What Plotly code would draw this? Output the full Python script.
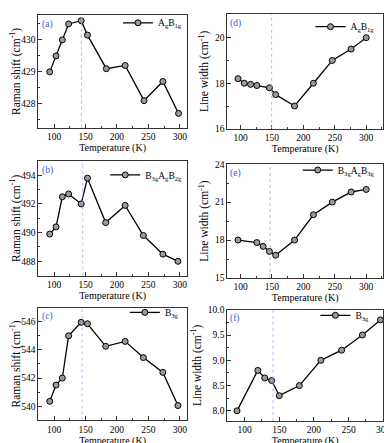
import plotly.graph_objects as go
from plotly.subplots import make_subplots

# temperatures (K)
t_a = [93, 103, 113, 123, 143, 153, 183, 213, 243, 273, 298]
t_b = [93, 103, 113, 123, 143, 153, 182, 213, 242, 273, 297]
t_c = [93, 103, 113, 123, 143, 153, 182, 213, 242, 273, 297]
t_d = [96, 106, 116, 126, 146, 156, 186, 216, 246, 276, 300]
t_e = [96, 126, 136, 146, 156, 186, 216, 246, 276, 300]
t_f = [89, 119, 129, 139, 150, 179, 210, 240, 270, 296]

# Raman shift (cm-1)
shift_a = [429.0, 429.5, 430.0, 430.5, 430.6, 430.15, 429.1, 429.2, 428.1, 428.7, 427.7]
shift_b = [489.9, 490.4, 492.5, 492.7, 492.0, 493.8, 490.7, 491.9, 489.8, 488.5, 488.0]
shift_c = [540.35, 541.5, 542.0, 545.0, 545.95, 545.85, 544.25, 544.6, 543.45, 542.4, 540.05]

# line width (cm-1)
width_d = [18.2, 18.0, 17.95, 17.9, 17.8, 17.5, 17.0, 18.0, 19.0, 19.5, 20.0]
width_e = [18.0, 17.8, 17.5, 17.1, 16.8, 18.0, 20.0, 21.0, 21.8, 22.0]
width_f = [8.0, 8.8, 8.65, 8.6, 8.3, 8.5, 9.0, 9.2, 9.5, 9.8]

labels = ["(a)", "(d)", "(b)", "(e)", "(c)", "(f)"]
modes = ["A<sub>g</sub>B<sub>1g</sub>", "A<sub>g</sub>B<sub>1g</sub>",
         "B<sub>3g</sub>A<sub>g</sub>B<sub>2g</sub>", "B<sub>3g</sub>A<sub>g</sub>B<sub>3g</sub>",
         "B<sub>3g</sub>", "B<sub>3g</sub>"]
vlines = [143.5, 149.5, 145.5, 147, 144.5, 141]

FONT = "Liberation Serif"
fig = make_subplots(rows=3, cols=2)

panels = [(t_a, shift_a), (t_d, width_d), (t_b, shift_b),
          (t_e, width_e), (t_c, shift_c), (t_f, width_f)]

# domains (pixels -> paper)
W, H = 392, 443
xdom_l = [31 / W, 182 / W]
xdom_r = [223.3 / W, 382 / W]
ydoms = [(1, 116.7), (0, 117.7), (150.7, 268.3), (154, 270.7), (301, 416.7), (303.3, 417.3)]

xranges = [[75, 311], [79, 327], [75, 311], [79, 327], [75, 311], [75, 300]]
yranges = [[427.25, 430.78], [16, 21.04], [487, 495], [15, 24], [539, 547], [7.8, 10.0]]
ydticks = [1, 2, 2, 3, 2, 0.5]

# legend text start / vertical centre, in pixels
leg_text_x = [153, 349, 140, 336, 160, 354]
leg_mid_y = [9, 13, 165, 160, 306, 309]

for i, (tx, vals) in enumerate(panels):
    r, c = i // 2 + 1, i % 2 + 1
    lg = "legend" if i == 0 else f"legend{i + 1}"
    fig.add_trace(go.Scatter(
        x=tx, y=vals, mode="lines+markers", name=modes[i],
        line=dict(color="black", width=1.3),
        marker=dict(symbol="circle", size=6, color="#9a9a9a",
                    line=dict(color="black", width=1)),
        legend=lg, showlegend=True,
    ), row=r, col=c)

    xd = xdom_l if c == 1 else xdom_r
    top, bot = ydoms[i]
    yd = [1 - bot / H, 1 - top / H]
    sfx = "" if i == 0 else str(i + 1)

    axis_common = dict(showline=True, linecolor="#333", linewidth=1, mirror=True,
                       ticks="inside", ticklen=4, tickcolor="#333", showgrid=False,
                       zeroline=False, tickfont=dict(family=FONT, size=9.5, color="black"))
    fig.layout["xaxis" + sfx].update(
        domain=xd, range=xranges[i], dtick=50, tick0=0,
        minor=dict(ticks="inside", ticklen=2, dtick=25, tickcolor="#333"),
        title=dict(text="Temperature (K)", font=dict(family=FONT, size=10, color="black"),
                   standoff=0),
        **axis_common)
    ytitle = "Raman shift (cm<sup>-1</sup>)" if c == 1 else "Line width (cm<sup>-1</sup>)"
    fig.layout["yaxis" + sfx].update(
        domain=yd, range=yranges[i], dtick=ydticks[i],
        tickformat=".1f" if i == 5 else None,
        minor=dict(ticks="inside", ticklen=2, dtick=ydticks[i] / 2, tickcolor="#333"),
        title=dict(text=ytitle, font=dict(family=FONT, size=11.5, color="black"), standoff=3),
        **axis_common)

    fig.layout[lg] = dict(
        x=(leg_text_x[i] - 41) / W, y=1 - leg_mid_y[i] / H,
        xanchor="left", yanchor="middle",
        xref="paper", yref="paper", bgcolor="rgba(0,0,0,0)",
        font=dict(family=FONT, size=9.5, color="black"),
        itemwidth=30, tracegroupgap=0,
    )

    fig.add_shape(type="line", x0=vlines[i], x1=vlines[i], y0=0, y1=1,
                  xref="x" + sfx, yref=f"y{sfx} domain",
                  line=dict(color="#98aef0", width=0.8, dash="dot"))
    fig.add_annotation(text=labels[i], x=xd[0] + 0.003, y=yd[1] - 0.004,
                       xref="paper", yref="paper", xanchor="left", yanchor="top",
                       showarrow=False, font=dict(family=FONT, size=9.5, color="#3a5ad8"))

fig.update_layout(
    width=W, height=H, margin=dict(l=0, r=0, t=0, b=0),
    plot_bgcolor="white", paper_bgcolor="white",
    font=dict(family=FONT, color="black"),
)

fig.write_html("out.html")
